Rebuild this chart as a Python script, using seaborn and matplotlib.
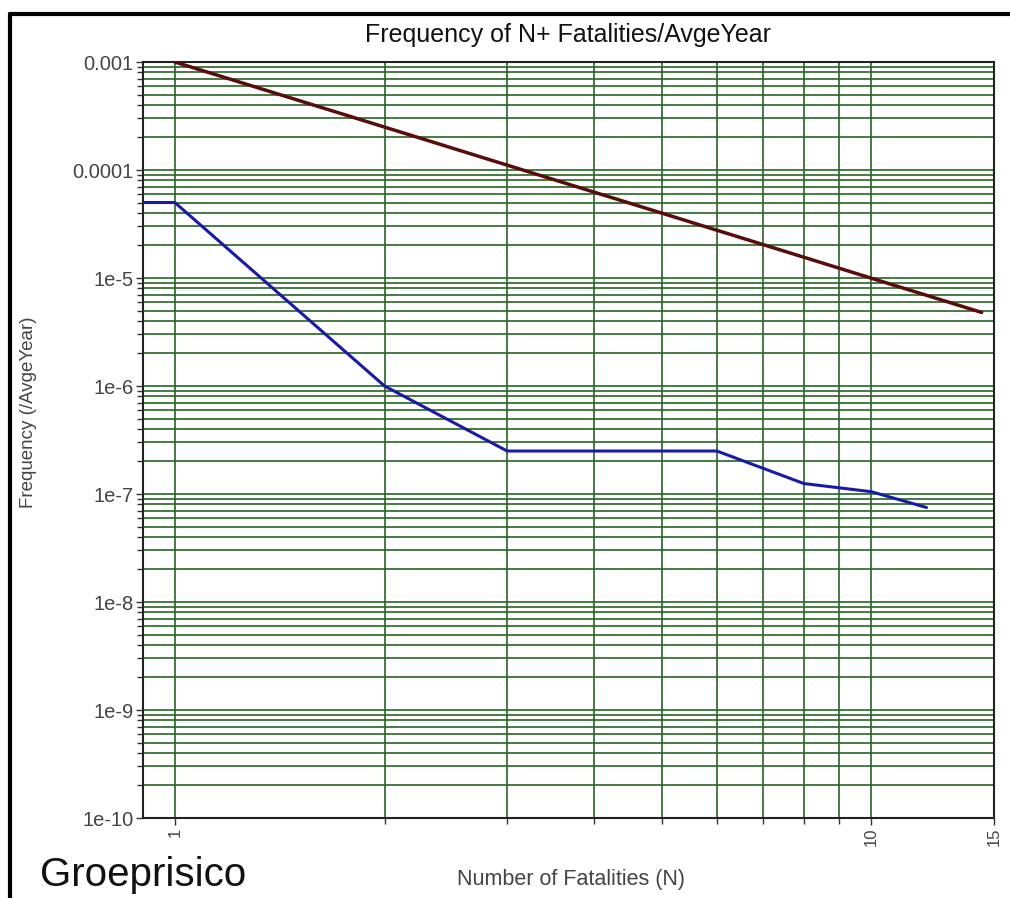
import numpy as np
import pandas as pd
import seaborn as sns
import matplotlib.pyplot as plt
from matplotlib.ticker import FixedLocator, LogLocator, NullFormatter

# data
blue_n = [0.9, 1, 2, 3, 6, 8, 10, 12]
blue_freq = [5e-5, 5e-5, 1e-6, 2.5e-7, 2.5e-7, 1.25e-7, 1.05e-7, 7.5e-8]
limit_n = [1, 14.4]
limit_freq = [1e-3, 4.8e-6]

ytick_vals = [1e-10, 1e-9, 1e-8, 1e-7, 1e-6, 1e-5, 1e-4, 1e-3]
ytick_labels = ['1e-10', '1e-9', '1e-8', '1e-7', '1e-6', '1e-5', '0.0001', '0.001']
xtick_vals = [1, 10, 15]
xtick_labels = ['1', '10', '15']

sns.set_style('white')
plt.rcParams['font.family'] = ['Liberation Sans', 'DejaVu Sans']

fig = plt.figure(figsize=(10.1, 8.98), dpi=100)
ax = fig.add_axes([143 / 1010, 1 - 818 / 898, (994 - 143) / 1010, (818 - 62) / 898])

df_blue = pd.DataFrame({'N': blue_n, 'freq': blue_freq})
df_limit = pd.DataFrame({'N': limit_n, 'freq': limit_freq})

sns.lineplot(data=df_limit, x='N', y='freq', ax=ax, color='#5a0c0c', lw=2.5, zorder=3)
sns.lineplot(data=df_blue, x='N', y='freq', ax=ax, color='#1a1aa6', lw=2.2, zorder=3)

ax.set_xscale('log')
ax.set_yscale('log')
ax.set_xlim(0.9, 15)
ax.set_ylim(1e-10, 1e-3)

ax.set_xticks(xtick_vals)
ax.set_xticklabels(xtick_labels, rotation=90, fontsize=12, color='#444444')
ax.xaxis.set_minor_locator(FixedLocator([2, 3, 4, 5, 6, 7, 8, 9]))
ax.xaxis.set_minor_formatter(NullFormatter())

ax.set_yticks(ytick_vals)
ax.set_yticklabels(ytick_labels, fontsize=14.5, color='#444444')
ax.yaxis.set_minor_locator(LogLocator(base=10, subs=np.arange(2, 10), numticks=20))
ax.yaxis.set_minor_formatter(NullFormatter())

ax.tick_params(which='both', direction='out', length=5, width=1, color='#333333',
               left=True, bottom=True, pad=2)
ax.tick_params(which='minor', length=4)

ax.grid(True, which='both', color='#256525', lw=1.2, zorder=1)
for sp in ax.spines.values():
    sp.set_color('#222222')
    sp.set_linewidth(1.5)

ax.set_xlabel('')
ax.set_ylabel('')
fig.text(568 / 1010, 1 - 35 / 898, 'Frequency of N+ Fatalities/AvgeYear', ha='center', va='center',
         fontsize=18, color='#111111')
fig.text(29 / 1010, 1 - 412 / 898, 'Frequency (/AvgeYear)', rotation=90, ha='center', va='center',
         fontsize=13.5, color='#444444')
fig.text(571 / 1010, 1 - 880 / 898, 'Number of Fatalities (N)', ha='center', va='center',
         fontsize=15.5, color='#444444')
fig.text(40 / 1010, 1 - 886 / 898, 'Groeprisico', ha='left', va='baseline', fontsize=29,
         color='#111111')

# outer frame of the screenshot
fig.add_artist(plt.Line2D([10 / 1010, 1], [1 - 14 / 898, 1 - 14 / 898], color='black', lw=3))
fig.add_artist(plt.Line2D([10 / 1010, 10 / 1010], [0, 1 - 14 / 898], color='black', lw=3))

fig.savefig('out.png', dpi=100)
